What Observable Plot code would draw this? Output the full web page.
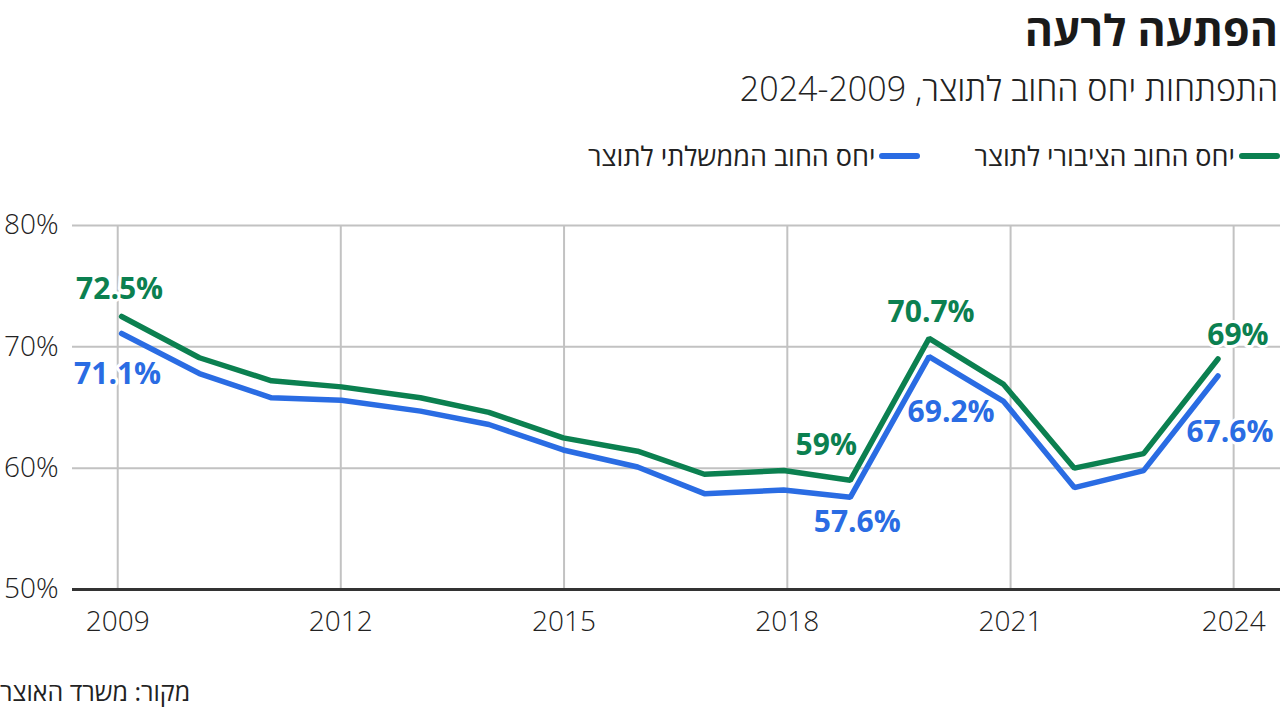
<!DOCTYPE html>
<html>
<head>
<meta charset="utf-8">
<script src="https://cdn.jsdelivr.net/npm/d3@7"></script>
<script src="https://cdn.jsdelivr.net/npm/@observablehq/plot@0.6"></script>
<style>
  html, body { margin: 0; padding: 0; background: #fff; }
  body { width: 1280px; height: 713px; position: relative; overflow: hidden; font-family: "Open Sans", "Noto Sans", sans-serif; color: #222; }
  .title { position: absolute; right: 2px; top: 2px; font-size: 43px; font-weight: 700; direction: rtl; color: #1a1a1a; line-height: 56px; }
  .subtitle { position: absolute; right: 2px; top: 66px; font-size: 34px; font-weight: 300; direction: rtl; color: #222; line-height: 44px; }
  .legend { position: absolute; right: 0; top: 138px; direction: rtl; display: flex; gap: 54px; font-size: 27px; line-height: 36px; }
  .legend .item { display: flex; align-items: center; gap: 4px; }
  .legend .sw { width: 41px; height: 6px; border-radius: 3px; display: inline-block; }
  .caption { position: absolute; left: 0px; top: 674px; font-size: 25px; direction: rtl; color: #222; line-height: 34px; }
  #chart { position: absolute; left: 0; top: 190px; }
</style>
</head>
<body>
<div class="title">הפתעה לרעה</div>
<div class="subtitle">התפתחות יחס החוב לתוצר, 2024-2009</div>
<div class="legend" id="legend"></div>
<div id="chart"></div>
<div class="caption">מקור: משרד האוצר</div>
<script>
// Data (observation dates as plotted, labelled by year)
const dates = ["2009-01-20","2010-02-06","2011-01-26","2012-01-04","2013-01-26","2013-12-28","2014-12-28","2015-12-28","2016-11-20","2017-12-14","2018-11-06","2019-11-28","2020-11-28","2021-11-10","2022-10-16","2023-10-16"];
const publicDebt = [72.5, 69.1, 67.2, 66.7, 65.8, 64.6, 62.5, 61.4, 59.5, 59.8, 59.0, 70.7, 66.9, 60.0, 61.2, 69.0];
const govDebt    = [71.1, 67.8, 65.8, 65.6, 64.7, 63.6, 61.5, 60.1, 57.9, 58.2, 57.6, 69.2, 65.5, 58.4, 59.8, 67.6];
const seriesNames = ["יחס החוב הציבורי לתוצר", "יחס החוב הממשלתי לתוצר"];
const seriesColors = ["#0b8050", "#2a6ce3"];
const tickYears = [2009, 2012, 2015, 2018, 2021, 2024];
const yTicks = [50, 60, 70, 80];

const parse = d3.utcParse("%Y-%m-%d");
const rows = [];
dates.forEach((d, i) => {
  rows.push({date: parse(d), value: publicDebt[i], series: seriesNames[0], i});
  rows.push({date: parse(d), value: govDebt[i], series: seriesNames[1], i});
});
const pub = rows.filter(r => r.series === seriesNames[0]);
const gov = rows.filter(r => r.series === seriesNames[1]);
const fmt = v => `${+v.toFixed(1)}%`;

// annotated points: index, offsets
const pubLabels = [{i: 0, dx: -2, dy: -27}, {i: 10, dx: -24, dy: -35}, {i: 11, dx: 2, dy: -26}, {i: 15, dx: 20, dy: -24}];
const govLabels = [{i: 0, dx: -4, dy: 41}, {i: 10, dx: 7, dy: 25}, {i: 11, dx: 22, dy: 56}, {i: 15, dx: 12, dy: 56}];

const labelMarks = (data, labels, color) => labels.map(l => Plot.text([data[l.i]], {
  x: "date", y: "value", text: d => fmt(d.value), dx: l.dx, dy: l.dy,
  fill: color, stroke: "white", strokeWidth: 6, fontSize: 30, fontWeight: 700,
  fontFamily: "Open Sans"
}));

const tickDates = tickYears.map(y => new Date(Date.UTC(y, 0, 1)));

const chart = Plot.plot({
  width: 1280,
  height: 460,
  marginLeft: 72,
  marginRight: 0,
  marginTop: 35,
  marginBottom: 61,
  style: {fontFamily: "Open Sans", fontSize: "28px", fontWeight: 300, color: "#222", background: "transparent"},
  x: {type: "utc", domain: [new Date(Date.UTC(2008, 4, 24)), new Date(Date.UTC(2024, 7, 18))], ticks: tickDates, tickFormat: d3.utcFormat("%Y"), tickSize: 0, tickPadding: 22, label: null},
  y: {domain: [50, 80], ticks: yTicks, tickFormat: d => `${d}%`, tickSize: 0, tickPadding: 14, label: null},
  marks: [
    Plot.ruleY(yTicks.filter(t => t > 50), {stroke: "#c2c2c2", strokeWidth: 2}),
    Plot.ruleX(tickDates, {stroke: "#c2c2c2", strokeWidth: 2}),
    Plot.ruleY([50], {stroke: "#333", strokeWidth: 3}),
    Plot.line(pub, {x: "date", y: "value", stroke: seriesColors[0], strokeWidth: 5.5, strokeLinejoin: "miter"}),
    Plot.line(gov, {x: "date", y: "value", stroke: seriesColors[1], strokeWidth: 5.5, strokeLinejoin: "miter"}),
    ...labelMarks(pub, pubLabels, seriesColors[0]),
    ...labelMarks(gov, govLabels, seriesColors[1])
  ]
});
document.getElementById("chart").appendChild(chart);

const legend = document.getElementById("legend");
seriesNames.forEach((name, k) => {
  const item = document.createElement("div");
  item.className = "item";
  item.innerHTML = `<span class="sw" style="background:${seriesColors[k]}"></span><span>${name}</span>`;
  legend.appendChild(item);
});
</script>
</body>
</html>
